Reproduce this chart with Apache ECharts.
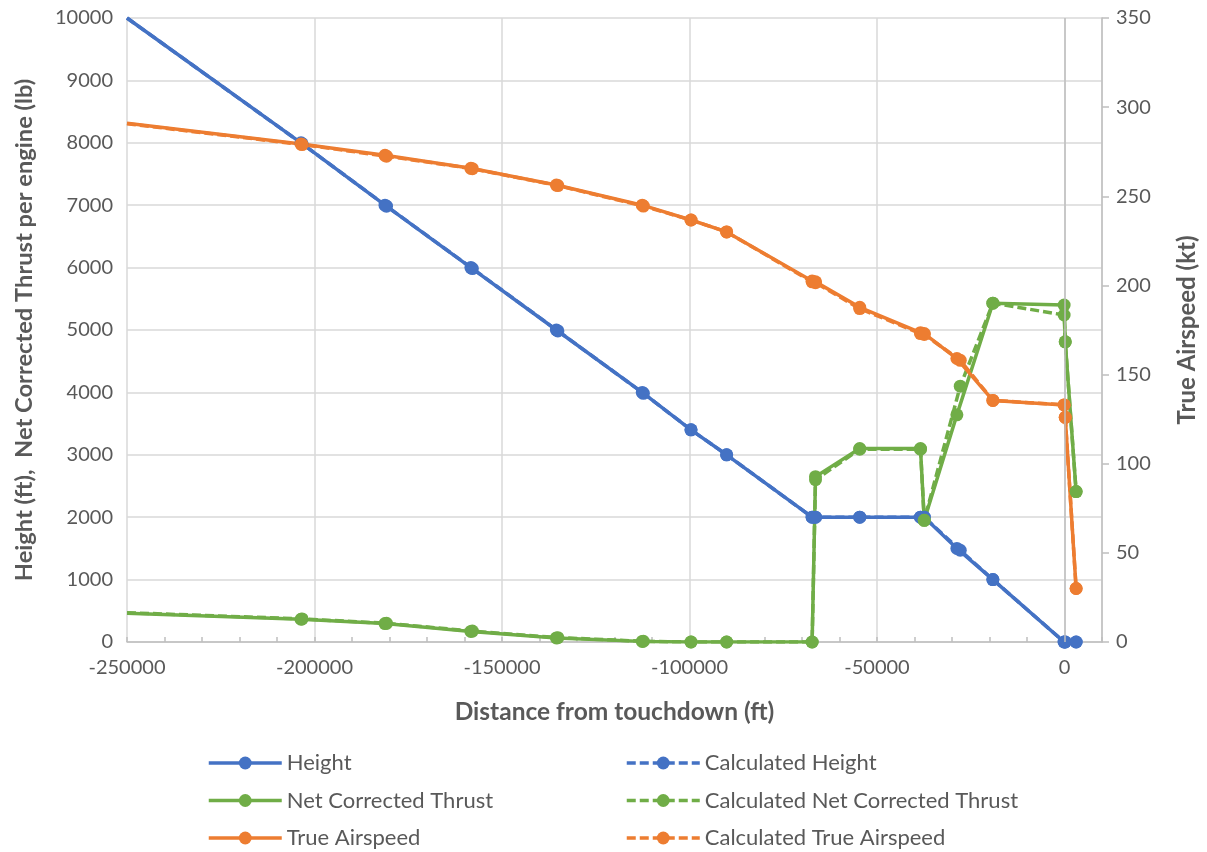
<!DOCTYPE html>
<html><head><meta charset="utf-8">
<script src="https://cdn.jsdelivr.net/npm/echarts@6/dist/echarts.min.js"></script>
<style>html,body{margin:0;padding:0;background:#fff}#c{width:1207px;height:852px}</style>
</head><body><div id="c"></div>
<script>
// ---- data ----
const xActual      = [-250000,-203600,-181200,-158300,-135500,-112600,-99600,-90100,-67300,-66400,-54600,-38400,-37400,-28700,-19100,-100,200,3100];
const heightActual = [10000,8000,7000,6000,5000,4000,3400,3000,2000,2000,2000,2000,2000,1500,1000,0,0,0];
const thrustActual = [460,365,295,170,65,10,0,0,0,2650,3100,3100,1950,3640,5430,5400,4810,2410];
const tasActual    = [291,279.3,273,265.7,256.3,245,236.7,230,202.5,202,187.7,173.5,173,159,135.5,133,126,30];

const xCalc        = [-250000,-203300,-180800,-157900,-135100,-112300,-99600,-90100,-67300,-66400,-54600,-38400,-37400,-27800,-19100,-100,200,3100];
const heightCalc   = [10000,7985,6985,5985,4985,3985,3400,3000,2000,2000,2000,2000,2000,1470,1000,0,0,0];
const thrustCalc   = [470,370,300,175,70,12,0,0,0,2600,3090,3090,1950,4100,5430,5240,4810,2410];
const tasCalc      = [290.7,279,272.5,265.5,256,244.5,236.7,230,202,201.5,187,173,172.5,158,135.5,133,126,30];

const seriesNames = ['Height','Calculated Height','Net Corrected Thrust','Calculated Net Corrected Thrust','True Airspeed','Calculated True Airspeed'];

const BLUE='#4472C4', GREEN='#70AD47', ORANGE='#ED7D31';
const TXT='#595959', FONT='Lato';

function pairs(xs, ys){
  return xs.map((x,i)=> i===0 ? {value:[x,ys[i]], symbol:'none'} : [x,ys[i]]);
}
function mk(name, xs, ys, color, dashed, yIdx){
  return {
    name, type:'line', xAxisIndex:0, yAxisIndex:yIdx,
    data: pairs(xs, ys),
    symbol:'circle', symbolSize:13, showAllSymbol:true, clip:true,
    lineStyle:{color, width:3.5, type: dashed ? [9,4] : 'solid'},
    itemStyle:{color},
    emphasis:{disabled:true},
    animation:false
  };
}

const chart = echarts.init(document.getElementById('c'), null, {renderer:'canvas'});
const series = [
  mk(seriesNames[0], xActual, heightActual, BLUE, false, 0),
  mk(seriesNames[1], xCalc, heightCalc, BLUE, true, 0),
  mk(seriesNames[2], xActual, thrustActual, GREEN, false, 0),
  mk(seriesNames[3], xCalc, thrustCalc, GREEN, true, 0),
  mk(seriesNames[4], xActual, tasActual, ORANGE, false, 1),
  mk(seriesNames[5], xCalc, tasCalc, ORANGE, true, 1)
];
series[0].markLine = {
  silent:true, symbol:'none', label:{show:false}, animation:false,
  lineStyle:{color:'#bfbfbf', width:1.5, type:'solid'},
  data:[{xAxis:0}]
};

const legendCommon = {
  orient:'vertical', top:752, height:100, padding:0, itemWidth:73, itemHeight:16, itemGap:15.5,
  textStyle:{fontFamily:FONT, fontSize:22, color:TXT, lineHeight:21},
  lineStyle:{width:3.5},
  selectedMode:false
};

chart.setOption({
  backgroundColor:'#fff',
  animation:false,
  grid:{left:127, right:104, top:18, bottom:210},
  legend:[
    Object.assign({left:207, data:[seriesNames[0],seriesNames[2],seriesNames[4]]}, legendCommon),
    Object.assign({left:625, data:[seriesNames[1],seriesNames[3],seriesNames[5]]}, legendCommon)
  ],
  xAxis:[
    {type:'value', min:-250000, max:10000, interval:50000, position:'bottom',
     axisLine:{show:true, onZero:false, lineStyle:{color:'#bfbfbf', width:1.5}},
     axisTick:{show:false},
     axisLabel:{formatter:v=> (v%50000===0 ? String(v) : ''), fontFamily:FONT, fontSize:20, color:TXT, margin:16},
     splitLine:{show:true, lineStyle:{color:'#d9d9d9', width:1.5}},
     name:'Distance from touchdown (ft)', nameLocation:'middle', nameGap:58,
     nameTextStyle:{fontFamily:FONT, fontWeight:'bold', fontSize:24.5, color:TXT}},
    {type:'value', min:-250000, max:10000, interval:10000, position:'bottom',
     axisLine:{show:false, onZero:false},
     axisTick:{show:true, inside:true, length:5, lineStyle:{color:'#bfbfbf', width:1.5}},
     axisLabel:{show:false}, splitLine:{show:false}}
  ],
  yAxis:[
    {type:'value', min:0, max:10000, interval:1000, position:'left',
     axisLine:{show:false, onZero:false}, axisTick:{show:false},
     axisLabel:{formatter:v=>String(v), fontFamily:FONT, fontSize:20, color:TXT, margin:14},
     splitLine:{show:true, lineStyle:{color:'#d9d9d9', width:1.5}},
     name:'Height (ft),  Net Corrected Thrust per engine (lb)', nameLocation:'middle', nameRotate:90, nameGap:91,
     nameTextStyle:{fontFamily:FONT, fontWeight:'bold', fontSize:23.7, color:TXT}},
    {type:'value', min:0, max:350, interval:50, position:'right',
     axisLine:{show:true, onZero:false, lineStyle:{color:'#bfbfbf', width:1.5}},
     axisTick:{show:true, inside:false, length:7, lineStyle:{color:'#bfbfbf', width:1.5}},
     axisLabel:{formatter:v=>String(v), fontFamily:FONT, fontSize:20, color:TXT, margin:14},
     splitLine:{show:false},
     name:'True Airspeed (kt)', nameLocation:'middle', nameRotate:90, nameGap:73,
     nameTextStyle:{fontFamily:FONT, fontWeight:'bold', fontSize:24, color:TXT}}
  ],
  series
});
</script>
</body></html>
